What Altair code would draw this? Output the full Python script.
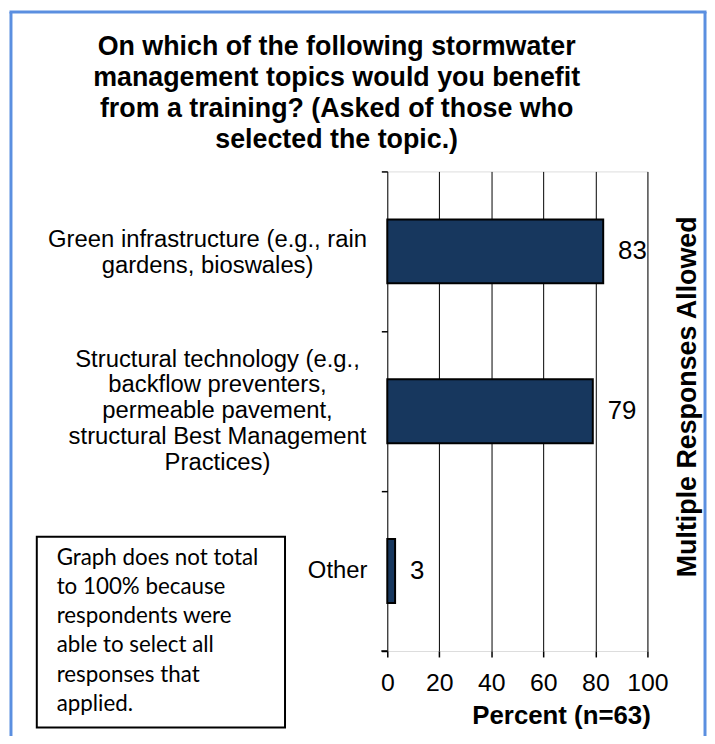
import altair as alt
import pandas as pd

# ---- data ----
topics = [
    "Green infrastructure (e.g., rain\ngardens, bioswales)",
    "Structural technology (e.g.,\nbackflow preventers,\npermeable pavement,\nstructural Best Management\nPractices)",
    "Other",
]
percents = [83, 79, 3]
x_ticks = [0, 20, 40, 60, 80, 100]
title_text = "On which of the following stormwater\nmanagement topics would you benefit\nfrom a training? (Asked of those who\nselected the topic.)"
x_title = "Percent (n=63)"
side_note = "Multiple Responses Allowed"
box_note = "Graph does not total\nto 100% because\nrespondents were\nable to select all\nresponses that\napplied."

df = pd.DataFrame({"topic": topics, "pct": percents})

FONT = "Liberation Sans"
W, H = 262, 483
BORDER = "#5b8fe0"
LINE_H = 26

y_enc = alt.Y(
    "topic:N",
    sort=topics,
    scale=alt.Scale(paddingInner=0, paddingOuter=0),
    axis=alt.Axis(
        labels=False, title=None, tickBand="extent", tickSize=6,
        tickColor="black", tickWidth=1.5, domain=False, grid=False,
    ),
)

base = alt.Chart(df)

bars = base.mark_bar(
    height={"band": 0.4}, color="#17375e", stroke="black", strokeWidth=2
).encode(
    x=alt.X(
        "pct:Q",
        scale=alt.Scale(domain=[0, 100]),
        axis=alt.Axis(
            values=x_ticks, grid=True, gridColor="black", gridWidth=1,
            domain=False, tickColor="black", tickSize=6, tickWidth=1.5,
            labelFont=FONT, labelFontSize=25, labelColor="black", labelPadding=14,
            labelOverlap=False, labelFlush=False,
            title=x_title, titleFont=FONT, titleFontSize=26, titleFontWeight="bold",
            titleColor="black", titleX=175, titleY=65, titleBaseline="middle",
        ),
    ),
    y=y_enc,
)

values = base.mark_text(
    align="left", baseline="middle", dx=15, font=FONT, fontSize=26, color="black"
).encode(x="pct:Q", y=alt.Y("topic:N", sort=topics), text="pct:Q")

label_layers = []
label_x = [-181, -171, -20]
label_align = ["center", "center", "right"]
label_shift = [2, 0, 0]
for t, lx, la, sh in zip(topics, label_x, label_align, label_shift):
    n_lines = t.count("\n") + 1
    label_layers.append(
        base.transform_filter(alt.datum.topic == t)
        .mark_text(align=la, baseline="middle", lineBreak="\n", font=FONT,
                   fontSize=24, lineHeight=LINE_H, color="black",
                   dy=-(n_lines - 1) * LINE_H / 2 + sh)
        .encode(x=alt.value(lx), y=alt.Y("topic:N", sort=topics), text="topic:N")
    )

one = alt.Chart(pd.DataFrame({"note": [box_note], "side": [side_note], "title": [title_text]}))

title = one.mark_text(
    align="center", baseline="middle", lineBreak="\n", font=FONT, fontSize=27,
    fontWeight="bold", lineHeight=31, color="black"
).encode(x=alt.value(-51), y=alt.value(-125), text="title:N")

box = one.mark_rect(fill="white", stroke="black", strokeWidth=2).encode(
    x=alt.value(-353), x2=alt.value(-103), y=alt.value(368), y2=alt.value(560)
)
box_text = one.mark_text(
    align="left", baseline="middle", lineBreak="\n", font="Lato",
    fontSize=22.5, lineHeight=29.5, color="black"
).encode(x=alt.value(-333), y=alt.value(389), text="note:N")

side = one.mark_text(
    angle=270, align="center", baseline="middle", font=FONT, fontSize=27,
    fontWeight="bold", color="black"
).encode(x=alt.value(303), y=alt.value(227), text="side:N")

bottom_tick = one.mark_rule(color="black", strokeWidth=1.5).encode(
    x=alt.value(-6), x2=alt.value(0), y=alt.value(H)
)

frame_left = one.mark_rule(color=BORDER, strokeWidth=3).encode(
    x=alt.value(-379), y=alt.value(-160.5), y2=alt.value(600)
)
frame_top = one.mark_rule(color=BORDER, strokeWidth=3).encode(
    x=alt.value(-380.5), x2=alt.value(321.5), y=alt.value(-160.5)
)
frame_right = one.mark_rule(color=BORDER, strokeWidth=3).encode(
    x=alt.value(320), y=alt.value(-160.5), y2=alt.value(600)
)

chart = alt.layer(
    frame_left, frame_top, frame_right, title, bars, values, *label_layers,
    box, box_text, side, bottom_tick,
).properties(
    width=W,
    height=H,
    autosize=alt.AutoSizeParams(type="none"),
    padding={"left": 382, "top": 162, "right": 60, "bottom": 83},
).configure_view(
    stroke="black", strokeWidth=2
).configure(background="white")

chart.save("out.html", embed_options={"renderer": "svg", "actions": False})
